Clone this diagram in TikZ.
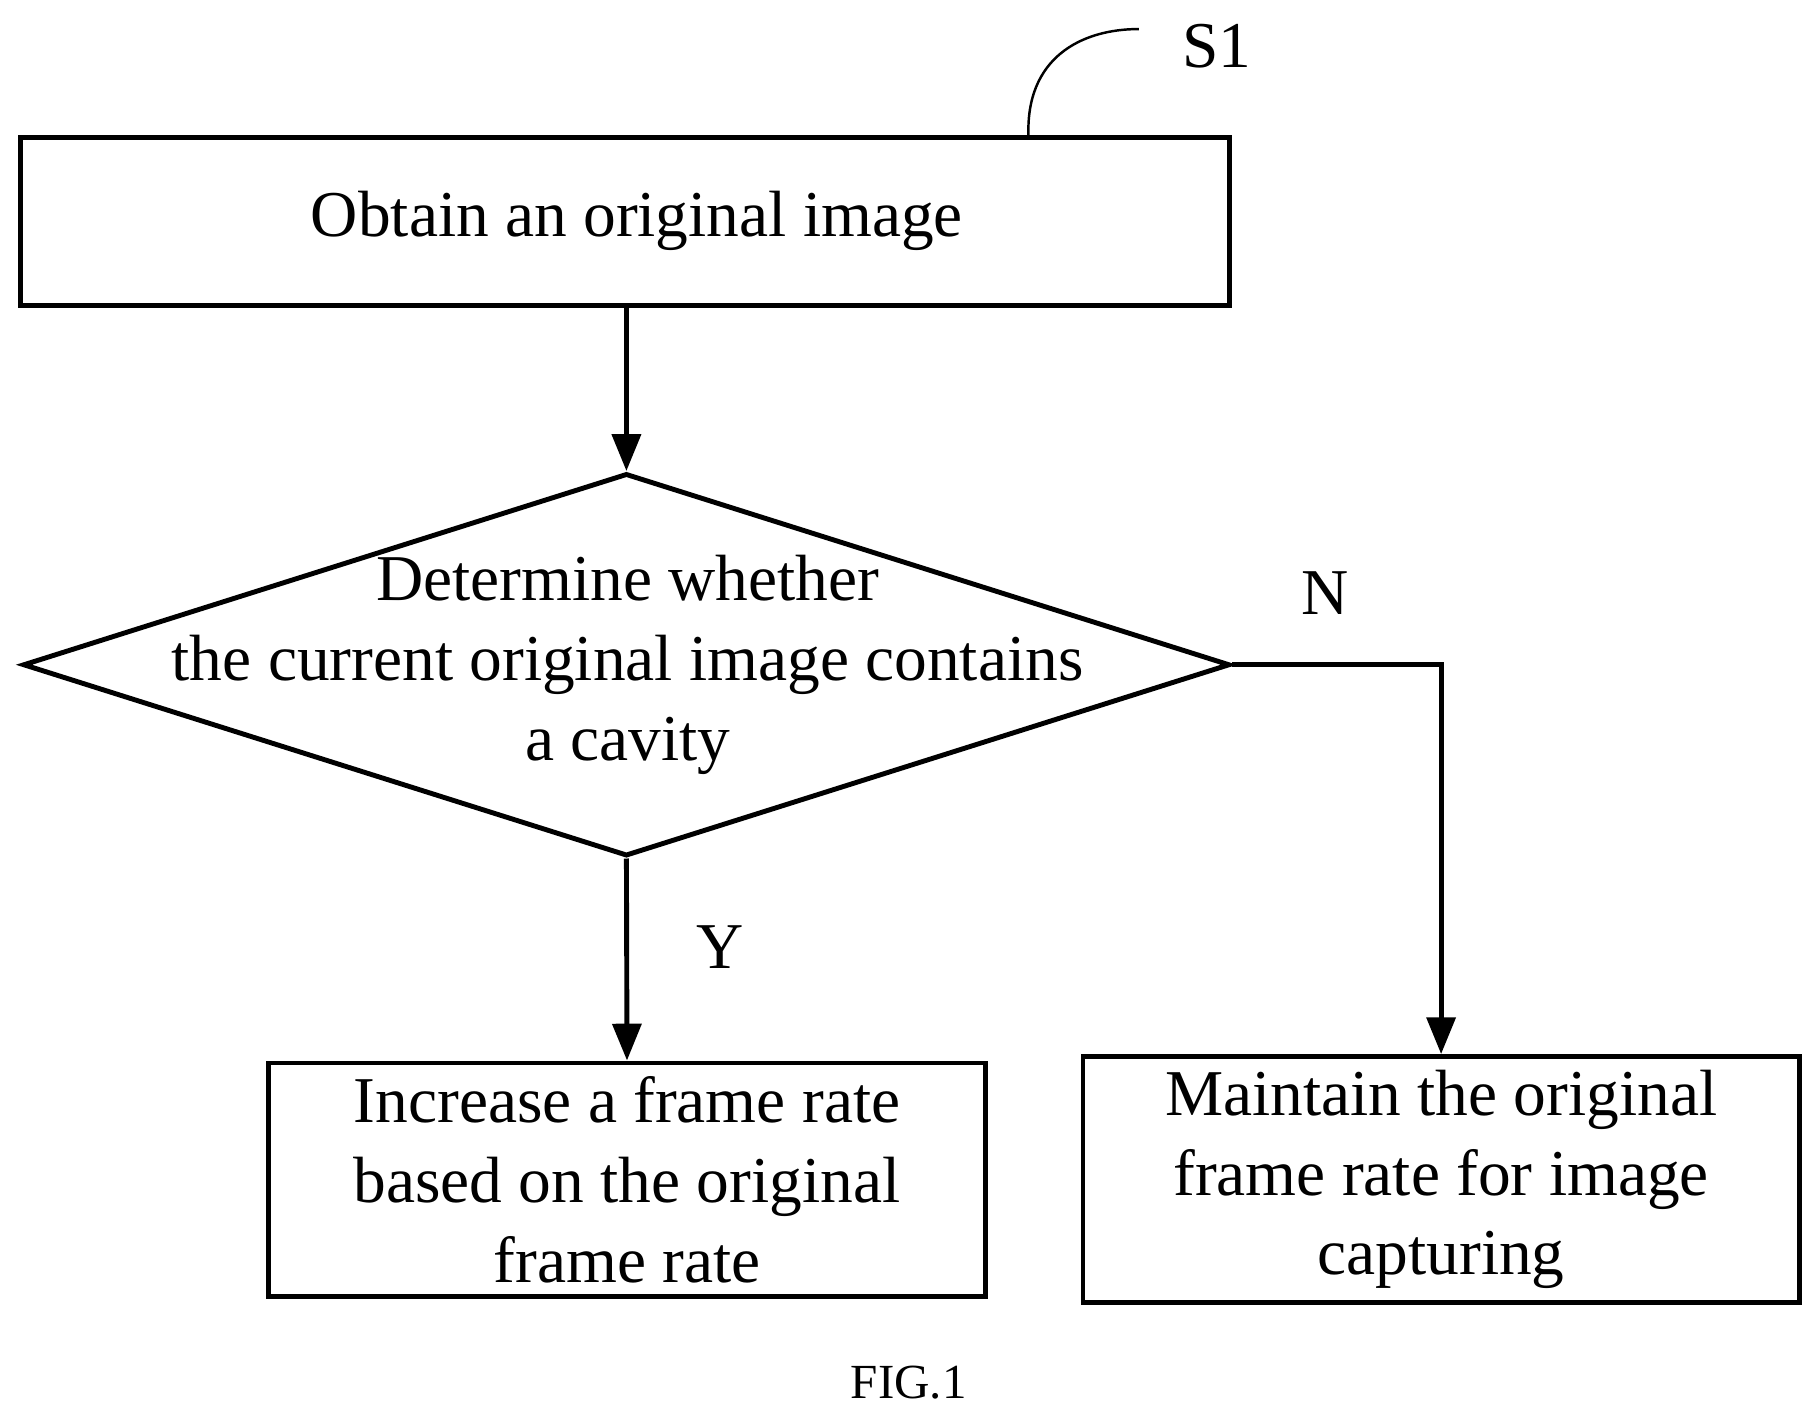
\documentclass[tikz,border=0pt]{standalone}
\usepackage{fontspec}
\setmainfont{Liberation Serif}
\usetikzlibrary{shapes.geometric,arrows.meta}
\begin{document}
\begin{tikzpicture}[x=0.01cm,y=-0.01cm,
  every node/.style={font=\fontsize{16}{19.5}\selectfont, align=center},
  arr/.style={line width=1.2pt,-{Triangle[length=9pt,width=7pt]}},
  bx/.style={draw, line width=1.2pt, rectangle}]
\useasboundingbox (0,0) rectangle (1560,1216);
\node[bx, minimum width=10.4cm, minimum height=1.45cm] (A) at (538,190.5) {};
\node at (548,190) {Obtain an original image};
\node[draw, line width=1.2pt, diamond, inner sep=0pt, minimum width=10.38cm, minimum height=3.29cm] (D) at (539,572) {};
\node at (540,572) {Determine whether\\the current original image contains\\a cavity};
\node[bx, minimum width=6.17cm, minimum height=2cm] (Y) at (539.5,1015) {Increase a frame rate\\based on the original\\frame rate};
\node[bx, minimum width=6.16cm, minimum height=2cm] (N) at (1240,1015) {Maintain the original\\frame rate for image\\capturing};
\draw[arr] (A.south -| D.north) -- (D.north);
\draw[arr] (D.south) -- (Y.north);
\draw[arr] (D.east) -| (N.north);
\node (ly) at (620,815) {Y};
\node (ln) at (1140,510) {N};
\node (s1) at (1047,40) {S1};
\coordinate (c1) at (885,118);
\draw[line width=0.6pt] (c1) .. controls (882,50) and (930,25) .. (980,25);
\node[font=\fontsize{12}{14}\selectfont] (fig) at (782,1190) {FIG.1};
\end{tikzpicture}
\end{document}
